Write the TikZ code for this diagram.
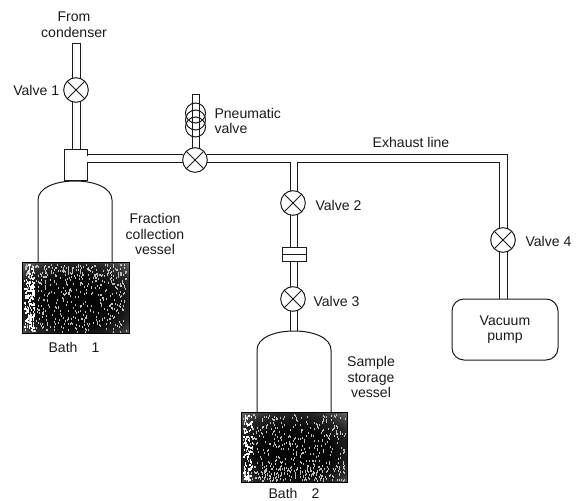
\documentclass[tikz,border=0pt]{standalone}
\usepackage{fontspec}
\setmainfont{Liberation Sans}
\usetikzlibrary{arrows.meta, positioning, calc}
\definecolor{mInk}{HTML}{1A1A1A}
\pgfdeclareradialshading{bathfill}{\pgfpoint{0bp}{-6bp}}{
  color(0bp)=(black); color(18bp)=(black!97); color(28bp)=(black!85);
  color(36bp)=(black!60); color(50bp)=(black!40)}

\begin{document}
\begin{tikzpicture}[x=0.3mm, y=-0.3mm, mInk, line width=0.3mm,
      vlv/.style={circle, draw, fill=white, minimum size=7.4mm, inner sep=0pt,
                  path picture={
                    \draw (path picture bounding box.north west) -- (path picture bounding box.south east);
                    \draw (path picture bounding box.north east) -- (path picture bounding box.south west);}},
      coil/.style={circle, draw, minimum size=6mm, inner sep=0pt},
      lbl/.style={inner sep=0pt, align=center, font=\fontsize{12}{13.4}\selectfont},
      bth/.style={draw=black, line width=0.3mm, shading=bathfill},
      grn/.style={fill=black!25, draw=none},
      lgt/.style={fill=white, draw=none}]
    \useasboundingbox (0,0) rectangle (576,501);

    % valves
    \node[vlv] (v1) at (76,90) {};
    \node[vlv] (vp) at (195,160) {};
    \node[vlv] (v2) at (293,203) {};
    \node[vlv] (v3) at (293,299) {};
    \node[vlv] (v4) at (503,240) {};

    % vessel 1 and bath 1
    \draw (38,262) -- (38,200) .. controls (38,188) and (55,181) .. (75,181)
          .. controls (95,181) and (112,188) .. (112,200) -- (112,262);
    \node[bth, minimum width=32.1mm, minimum height=21.3mm, inner sep=0pt] (bath1) at (75.5,297.5) {};
    \foreach \i in {1,...,420}
      \fill[grn] ({24+103*rnd},{264+67*rnd}) rectangle +(0.8,2);
    \foreach \i in {1,...,170}
      \fill[lgt] ({24+10*rnd},{264+67*rnd}) rectangle +(1.4,2);
    \foreach \i in {1,...,100}
      \fill[grn] ({24+103*rnd},{264+14*rnd}) rectangle +(0.8,2);

    % vessel 2 and bath 2
    \draw (257,412) -- (257,350) .. controls (257,338) and (274,331) .. (294,331)
          .. controls (314,331) and (331,338) .. (331,350) -- (331,412);
    \node[bth, minimum width=31.8mm, minimum height=21mm, inner sep=0pt] (bath2) at (294,447) {};
    \foreach \i in {1,...,420}
      \fill[grn] ({243+102*rnd},{414+66*rnd}) rectangle +(0.8,2);
    \foreach \i in {1,...,90}
      \fill[lgt] ({243+9*rnd},{414+66*rnd}) rectangle +(1.4,2);
    \foreach \i in {1,...,120}
      \fill[grn] ({243+102*rnd},{466+14*rnd}) rectangle +(0.8,2);

    % pump and tee
    \node[draw, rounded corners=3.6mm, minimum width=31.8mm, minimum height=18.3mm, inner sep=0pt,
          lbl] (pump) at (505,329.5) {Vacuum\\pump};
    \node[draw, fill=white, minimum width=6.9mm, minimum height=9.3mm, inner sep=0pt] (tee) at (75.5,165.5) {};
    \draw[white, line width=0.5mm] (87,156) -- (87,162);

    % condenser pipe
    \draw (72,78) -- (72,44) -- (80,44) -- (80,78);
    \draw (72,102) -- (72,150) (80,102) -- (80,150);

    % pneumatic valve
    \draw (192,148) -- (192,95) -- (199,95) -- (199,148);
    \node[coil] (c1) at (195.5,113) {};
    \node[coil] (c2) at (195.5,120) {};
    \node[coil] (c3) at (195.5,127) {};

    % exhaust line
    \draw (87,155) -- (183,155) (87,163) -- (183,163);
    \draw (207,155) -- (507,155) -- (507,228);
    \draw (207,163) -- (290,163) -- (290,191);
    \draw (297,191) -- (297,163) -- (499,163) -- (499,228);
    \draw (499,252) -- (499,299) (507,252) -- (507,299);

    % sample line
    \draw (290,215) -- (290,247) (297,215) -- (297,247);
    \draw (290,261) -- (290,287) (297,261) -- (297,287);
    \draw (290,311) -- (290,331) (297,311) -- (297,331);
    \node[draw, fill=white, minimum width=7.2mm, minimum height=4.2mm, inner sep=0pt] (clamp) at (294,254) {};
    \draw (clamp.west) -- (clamp.east);

    % labels
    \node[lbl] (lfrom) at (74,25) {From\\condenser};
    \node[lbl, left=3pt of v1] (lv1) {Valve 1};
    \node[lbl, align=left, anchor=west] (lpn) at (214,121) {Pneumatic\\valve};
    \node[lbl] (lex) at (411,142) {Exhaust line};
    \node[lbl] (lfr) at (155,234) {Fraction\\collection\\vessel};
    \node[lbl, anchor=west] (lv2) at (315,205) {Valve 2};
    \node[lbl, anchor=west] (lv3) at (313,301) {Valve 3};
    \node[lbl, anchor=west] (lv4) at (525,241) {Valve 4};
    \node[lbl] (lsa) at (371,377) {Sample\\storage\\vessel};
    \node[lbl] (lb1) at (74,347) {Bath\quad 1};
    \node[lbl] (lb2) at (294,493) {Bath\quad 2};
  \end{tikzpicture}
\end{document}
